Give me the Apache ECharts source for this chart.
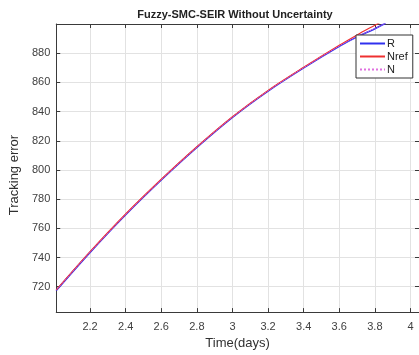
<!DOCTYPE html>
<html>
<head>
<meta charset="utf-8">
<script src="https://cdn.jsdelivr.net/npm/echarts@6/dist/echarts.min.js"></script>
<style>
html,body{margin:0;padding:0;background:#fff;}
#c{width:419px;height:355px;}
</style>
</head>
<body>
<div id="c"></div>
<script>
// Time (days)
var tR    = [2.01, 2.2, 2.4, 2.6, 2.8, 3.0, 3.2, 3.4, 3.6, 3.7, 3.8, 3.86];
var tNref = [2.01, 2.2, 2.4, 2.6, 2.8, 3.0, 3.2, 3.4, 3.6, 3.7, 3.8, 3.83];
// Series values
var valR    = [717.4, 743.5, 769.3, 793.1, 815.4, 836.0, 854.0, 869.9, 884.7, 891.2, 896.8, 900.5];
var valNref = [717.8, 744.0, 769.8, 793.6, 815.9, 836.5, 854.5, 870.3, 885.4, 892.5, 899.2, 901.2];
var valN    = [717.6, 743.7, 769.5, 793.3, 815.6, 836.2, 854.2, 870.1, 884.9, 891.4, 897.0, 900.6];
// Tick labels
var xTicks = [2.2, 2.4, 2.6, 2.8, 3.0, 3.2, 3.4, 3.6, 3.8, 4.0];
var yTicks = [720, 740, 760, 780, 800, 820, 840, 860, 880];

function pairs(t, v){ return t.map(function(x,i){ return [x, v[i]]; }); }

var FONT = '"Liberation Sans", Arial, Helvetica, sans-serif';
var AX = '#3a3a3a';
var XMIN = 2.01, XMAX = 4.048, YMIN = 702.6, YMAX = 900;

function xAx(pos, show){
  return {
    type:'value', position:pos, min:XMIN, max:XMAX,
    axisLine:{show:true, onZero:false, lineStyle:{color:AX, width:1}},
    axisTick:{show:true, inside:true, length:4, customValues:xTicks, lineStyle:{color:AX}},
    axisLabel:{show:show, customValues:xTicks, color:'#404040', fontSize:11, fontFamily:FONT, margin:9},
    splitLine:{show:show, lineStyle:{color:'#e2e2e2', width:1}},
    name: show ? 'Time(days)' : '', nameLocation:'middle', nameGap:22,
    nameTextStyle:{color:'#303030', fontSize:13, fontFamily:FONT}
  };
}
function yAx(pos, show){
  return {
    type:'value', position:pos, min:YMIN, max:YMAX,
    axisLine:{show:true, onZero:false, lineStyle:{color:AX, width:1}},
    axisTick:{show:true, inside:true, length:4, customValues:yTicks, lineStyle:{color:AX}},
    axisLabel:{show:show, customValues:yTicks, color:'#404040', fontSize:11, fontFamily:FONT, margin:6},
    splitLine:{show:show, lineStyle:{color:'#e2e2e2', width:1}},
    name: show ? 'Tracking error' : '', nameLocation:'middle', nameGap:31,
    nameTextStyle:{color:'#303030', fontSize:13, fontFamily:FONT, padding:[0,0,0,-14]}
  };
}

var chart = echarts.init(document.getElementById('c'), null, {renderer:'canvas'});
chart.setOption({
  animation:false,
  backgroundColor:'#fff',
  title:{
    text:'Fuzzy-SMC-SEIR Without Uncertainty',
    left:235, top:9, padding:0, textAlign:'center',
    textStyle:{fontSize:11, fontWeight:'bold', color:'#222', fontFamily:FONT}
  },
  grid:{left:50, right:0, top:24, bottom:39, containLabel:false},
  xAxis:[xAx('bottom', true), xAx('top', false)],
  yAxis:[yAx('left', true), yAx('right', false)],
  legend:{
    orient:'vertical', left:356, top:35,
    padding:[3,5,3,3], itemGap:2, itemWidth:25, itemHeight:12,
    backgroundColor:'#fff', borderColor:'#333', borderWidth:1, borderRadius:0,
    itemStyle:{opacity:0},
    textStyle:{fontSize:11, color:'#222', fontFamily:FONT, padding:[0,0,0,-3]},
    data:['R','Nref','N']
  },
  series:[
    {name:'R', type:'line', data:pairs(tR, valR), xAxisIndex:0, yAxisIndex:0,
     smooth:0.3, symbol:'none', lineStyle:{color:'#3030ee', width:1.6}, itemStyle:{color:'#3030ee'}},
    {name:'Nref', type:'line', data:pairs(tNref, valNref), xAxisIndex:0, yAxisIndex:0,
     smooth:0.3, symbol:'none', lineStyle:{color:'#ee3030', width:1.2}, itemStyle:{color:'#ee3030'}},
    {name:'N', type:'line', data:pairs(tR, valN), xAxisIndex:0, yAxisIndex:0,
     smooth:0.3, symbol:'none', lineStyle:{color:'#e070e0', width:1, type:'dotted'}, itemStyle:{color:'#e070e0'}}
  ]
});
</script>
</body>
</html>
